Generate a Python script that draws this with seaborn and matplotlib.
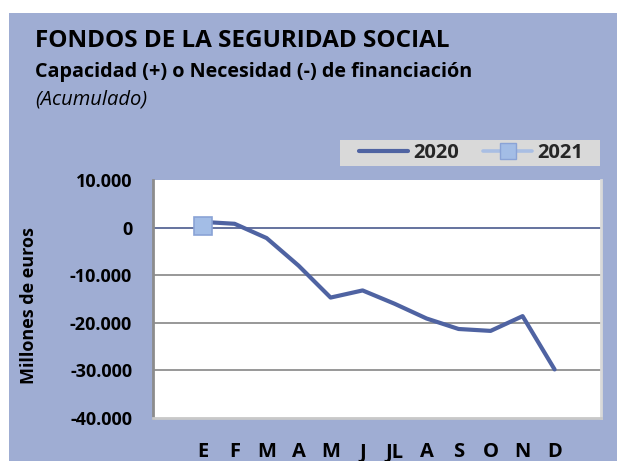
import matplotlib
matplotlib.use("Agg")
import matplotlib.pyplot as plt
from matplotlib.patches import Rectangle
from matplotlib.lines import Line2D
import seaborn as sns
import pandas as pd

# Monthly accumulated balance, millions of euros
months = ["E", "F", "M", "A", "M", "J", "JL", "A", "S", "O", "N", "D"]
values_2020 = [1200, 800, -2200, -8000, -14700, -13200, -16000, -19100, -21300, -21700, -18600, -29800]
values_2021 = [400]
y_ticks = [10000, 0, -10000, -20000, -30000, -40000]
y_tick_labels = ["10.000", "0", "-10.000", "-20.000", "-30.000", "-40.000"]

W, H = 617, 461
panel = "#9FADD3"
line_2020 = "#4F63A2"
line_2021 = "#A9BEE3"
fill_2021 = "#A3BDE6"
edge_2021 = "#8AA3D6"


def fx(px):
    return px / W


def fy(py):
    return 1 - py / H


sns.set_theme(style="white")
plt.rcParams["font.family"] = ["Open Sans", "DejaVu Sans"]

df = pd.concat([
    pd.DataFrame({"pos": range(len(values_2020)), "valor": values_2020, "serie": "2020"}),
    pd.DataFrame({"pos": range(len(values_2021)), "valor": values_2021, "serie": "2021"}),
])

fig = plt.figure(figsize=(W / 100, H / 100), dpi=100, facecolor="white")
fig.patches.append(Rectangle((fx(9), 0), 1, 1 - 13 / H, transform=fig.transFigure,
                             facecolor=panel, edgecolor="none", zorder=-10))

ax = fig.add_axes([fx(153), fy(418), (601 - 153) / W, (418 - 180) / H])
ax.set_facecolor("white")

sns.lineplot(data=df[df.serie == "2020"], x="pos", y="valor", ax=ax, color=line_2020,
             linewidth=3.0, legend=False, zorder=3)
sns.lineplot(data=df[df.serie == "2021"], x="pos", y="valor", ax=ax, color=line_2021,
             linewidth=2.2, marker="s", markersize=12.5, markerfacecolor=fill_2021,
             markeredgecolor=edge_2021, markeredgewidth=1.2, legend=False, zorder=4)

ax.set_xlim(-1.55, 12.45)
ax.set_ylim(-40000, 10000)
ax.set_xticks(range(len(months)))
ax.set_xticklabels(months, fontsize=14.5, fontweight="bold", color="black")
ax.set_yticks(y_ticks)
ax.set_yticklabels(y_tick_labels, fontsize=13, fontweight="bold", color="black")
ax.tick_params(axis="x", length=0, pad=17.5)
ax.tick_params(axis="y", length=0, pad=15)
ax.set_xlabel("")
ax.set_ylabel("Millones de euros", fontsize=13, fontweight="bold", color="black")
ax.yaxis.set_label_coords((37.5 - 153) / 448, (418 - 306) / 238)

for v in [-10000, -20000, -30000]:
    ax.axhline(v, color="#868686", linewidth=1.2, zorder=1)
ax.axhline(0, color="#4A5A8E", linewidth=1.2, zorder=1)

ax.spines["top"].set_visible(False)
ax.spines["left"].set_color("#8C8C8C")
ax.spines["left"].set_linewidth(2)
ax.spines["bottom"].set_color("#C8C8C8")
ax.spines["bottom"].set_linewidth(2)
ax.spines["right"].set_color("#D9D9D9")
ax.spines["right"].set_linewidth(2)

# Titles
fig.text(fx(35), fy(46.7), "FONDOS DE LA SEGURIDAD SOCIAL", fontsize=17.5,
         fontweight="bold", color="black", va="baseline", ha="left")
fig.text(fx(35), fy(77.3), "Capacidad (+) o Necesidad (-) de financiación",
         fontsize=14.2, fontweight="bold", color="black", va="baseline", ha="left")
fig.text(fx(35), fy(105), "(Acumulado)", fontsize=14.5, style="italic",
         color="black", va="baseline", ha="left")

# Legend on a grey band
fig.patches.append(Rectangle((fx(340), fy(166)), (600 - 340) / W, 26 / H,
                             transform=fig.transFigure, facecolor="#D9D9D9",
                             edgecolor="none", zorder=5))
handles = [
    Line2D([], [], color=line_2020, linewidth=3.0),
    Line2D([], [], color=line_2021, linewidth=2.6, marker="s", markersize=11,
           markerfacecolor=fill_2021, markeredgecolor=edge_2021),
]
leg = fig.legend(handles, ["2020", "2021"], loc="center", ncol=2,
                 bbox_to_anchor=(fx(471), fy(153)), frameon=False,
                 prop={"weight": "bold", "size": 14.5}, handlelength=2.45,
                 handletextpad=0.25, columnspacing=1.2, borderpad=0.0)
leg.set_zorder(6)

fig.savefig("out.png", dpi=100, facecolor="white")
